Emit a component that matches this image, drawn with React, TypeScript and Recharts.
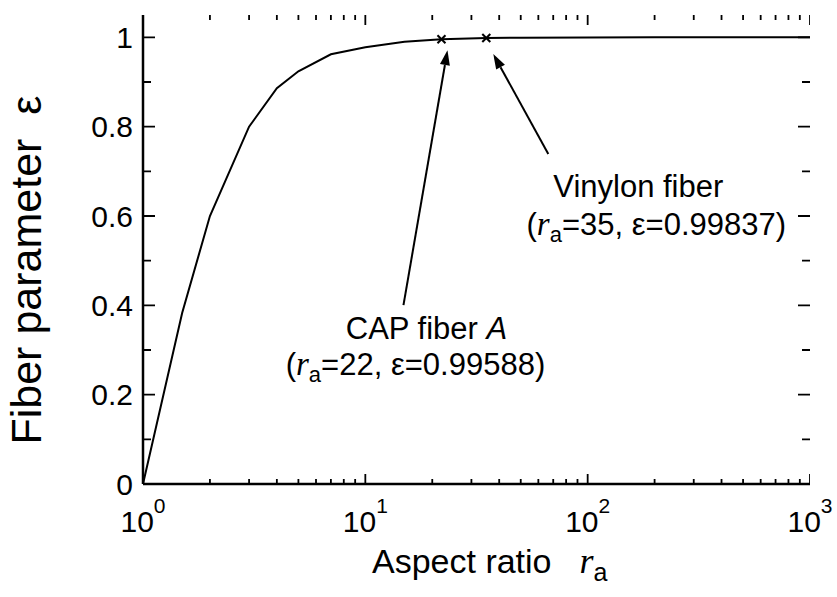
import { ComposedChart, Line, Scatter, XAxis, YAxis } from 'recharts';

// curve
const R_VALUES = [1, 1.5, 2, 3, 4, 5, 7, 10, 15, 22, 35, 50, 100, 200, 500, 1000];
const EPS_VALUES = [0, 0.383, 0.6, 0.8, 0.886, 0.924, 0.962, 0.978, 0.99, 0.99588, 0.99837, 0.9992, 0.9998, 1, 1, 1];

// marked fibres
const MARKER_KEYS = ['cap', 'vinylon'];
const MARKER_R = [22, 35];
const MARKER_EPS = [0.99588, 0.99837];

const X_DOMAIN = [1, 1000];
const Y_DOMAIN = [0, 1.05];
const X_MAJOR = [1, 10, 100, 1000];
const X_TICKS = [
  1, 2, 3, 4, 5, 6, 7, 8, 9,
  10, 20, 30, 40, 50, 60, 70, 80, 90,
  100, 200, 300, 400, 500, 600, 700, 800, 900,
  1000,
];
const Y_MAJOR = [0, 0.2, 0.4, 0.6, 0.8, 1];
const Y_TICKS = [0, 0.1, 0.2, 0.3, 0.4, 0.5, 0.6, 0.7, 0.8, 0.9, 1];

const curveData = R_VALUES.map((r, i) => ({ r, eps: EPS_VALUES[i] }));
const markerData = MARKER_KEYS.map((key, i) => ({ key, r: MARKER_R[i], eps: MARKER_EPS[i] }));

// chart box
const WIDTH = 837;
const HEIGHT = 597;
const MARGIN = { top: 15, right: 27, bottom: 53, left: 83 };
const X_AXIS_H = 60;
const Y_AXIS_W = 60;
const PLOT_W = WIDTH - MARGIN.left - MARGIN.right - Y_AXIS_W;
const PLOT_H = HEIGHT - MARGIN.top - MARGIN.bottom - X_AXIS_H;

// tick marks placed through the scales on the top and right edges, mirrored to bottom / left
const topTicks = X_TICKS.map((r) => ({ r, eps: Y_DOMAIN[1] }));
const rightTicks = Y_TICKS.map((eps) => ({ r: X_DOMAIN[1], eps }));

const FONT = '"Liberation Sans", Arial, Helvetica, sans-serif';
const SERIF = '"Liberation Serif", "Times New Roman", serif';

// pixel offsets of the annotations, relative to the marker
const LAYOUT: Record<string, any> = {
  cap: { tip: [6, 11], tail: [-38, 266], l1: [-15, 300], l2: [-26, 336] },
  vinylon: { tip: [7, 16], tail: [62, 116], l1: [152, 159], l2: [170, 197] },
};

const isMajorX = (v: number) => X_MAJOR.includes(v);
const isMajorY = (v: number) => Y_MAJOR.some((m) => Math.abs(m - v) < 1e-9);

function XTicks({ cx, cy, payload }: any) {
  const len = isMajorX(payload.r) ? 10 : 5;
  return (
    <path
      d={`M${cx},${cy}v${len}M${cx},${cy + PLOT_H}v${-len}`}
      stroke="#000"
      strokeWidth={1.8}
      fill="none"
    />
  );
}

function YTicks({ cx, cy, payload }: any) {
  const len = isMajorY(payload.eps) ? 12 : 8;
  return (
    <path
      d={`M${cx},${cy}h${-len}M${cx - PLOT_W},${cy}h${len}`}
      stroke="#000"
      strokeWidth={1.8}
      fill="none"
    />
  );
}

function XTickLabel(props: any) {
  const { x, y, payload } = props;
  if (!isMajorX(payload.value)) return <g />;
  return (
    <text x={x} y={y + 48} textAnchor="middle" fontFamily={FONT} fontSize={30} fill="#000">
      10
      <tspan fontSize={21} dy={-19}>
        {Math.round(Math.log10(payload.value))}
      </tspan>
    </text>
  );
}

function YTickLabel(props: any) {
  const { x, y, payload } = props;
  if (!isMajorY(payload.value)) return <g />;
  return (
    <text x={x - 10} y={y + 10.5} textAnchor="end" fontFamily={FONT} fontSize={30} fill="#000">
      {String(payload.value)}
    </text>
  );
}

function XTitle(props: any) {
  const vb = props.viewBox;
  return (
    <text x={vb.x + 229} y={vb.y + 89} fontFamily={FONT} fontSize={34} fill="#000">
      Aspect ratio
      <tspan dx={28} fontFamily={SERIF} fontStyle="italic" fontSize={36}>
        r
      </tspan>
      <tspan fontSize={25} dy={8}>
        a
      </tspan>
    </text>
  );
}

function YTitle(props: any) {
  const vb = props.viewBox;
  const cx = vb.x - 42;
  const cy = vb.y + 255;
  return (
    <text
      x={cx}
      y={cy}
      transform={`rotate(-90, ${cx}, ${cy})`}
      textAnchor="middle"
      fontFamily={FONT}
      fontSize={43}
      fill="#000"
    >
      Fiber parameter
      <tspan dx={24}>ε</tspan>
    </text>
  );
}

function Arrow({ x1, y1, x2, y2 }: { x1: number; y1: number; x2: number; y2: number }) {
  const dx = x2 - x1;
  const dy = y2 - y1;
  const d = Math.hypot(dx, dy);
  const ux = dx / d;
  const uy = dy / d;
  const hl = 15;
  const hw = 5;
  const bx = x2 - ux * hl;
  const by = y2 - uy * hl;
  const pts = `${x2},${y2} ${bx - uy * hw},${by + ux * hw} ${bx + uy * hw},${by - ux * hw}`;
  return (
    <g>
      <line x1={x1} y1={y1} x2={bx} y2={by} stroke="#000" strokeWidth={2} />
      <polygon points={pts} fill="#000" />
    </g>
  );
}

function FiberMarker(props: any) {
  const { cx, cy, payload } = props;
  const lay = LAYOUT[payload.key];
  const s = 4;
  const rText = `=${payload.r}, ε=${payload.eps.toFixed(5)})`;
  return (
    <g>
      <line x1={cx - s} y1={cy - s} x2={cx + s} y2={cy + s} stroke="#000" strokeWidth={2} />
      <line x1={cx - s} y1={cy + s} x2={cx + s} y2={cy - s} stroke="#000" strokeWidth={2} />
      <Arrow x1={cx + lay.tail[0]} y1={cy + lay.tail[1]} x2={cx + lay.tip[0]} y2={cy + lay.tip[1]} />
      <text x={cx + lay.l1[0]} y={cy + lay.l1[1]} textAnchor="middle" fontFamily={FONT} fontSize={31} fill="#000">
        {payload.key === 'cap' ? 'CAP fiber ' : 'Vinylon fiber'}
        {payload.key === 'cap' && <tspan fontStyle="italic">A</tspan>}
      </text>
      <text x={cx + lay.l2[0]} y={cy + lay.l2[1]} textAnchor="middle" fontFamily={FONT} fontSize={31} fill="#000">
        (
        <tspan fontFamily={SERIF} fontStyle="italic" fontSize={33}>
          r
        </tspan>
        <tspan fontSize={22} dy={7}>
          a
        </tspan>
        <tspan dy={-7}>{rText}</tspan>
      </text>
    </g>
  );
}

export default function App() {
  return (
    <div style={{ position: 'absolute', left: 0, top: 0, background: '#fff' }}>
      <ComposedChart width={WIDTH} height={HEIGHT} data={curveData} margin={MARGIN}>
        <XAxis
          dataKey="r"
          type="number"
          scale="log"
          domain={X_DOMAIN}
          allowDataOverflow
          ticks={X_TICKS}
          interval={0}
          height={X_AXIS_H}
          tickLine={false}
          tickSize={0}
          tickMargin={0}
          axisLine={{ stroke: '#000', strokeWidth: 2.5 }}
          tick={<XTickLabel />}
          label={<XTitle />}
        />
        <YAxis
          type="number"
          domain={Y_DOMAIN}
          allowDataOverflow
          ticks={Y_TICKS}
          interval={0}
          width={Y_AXIS_W}
          tickLine={false}
          tickSize={0}
          tickMargin={0}
          axisLine={{ stroke: '#000', strokeWidth: 2.5 }}
          tick={<YTickLabel />}
          label={<YTitle />}
        />
        <XAxis
          xAxisId="top"
          orientation="top"
          dataKey="r"
          type="number"
          scale="log"
          domain={X_DOMAIN}
          allowDataOverflow
          height={0}
          tick={false}
          tickLine={false}
          axisLine={{ stroke: '#000', strokeWidth: 2.5 }}
        />
        <YAxis
          yAxisId="right"
          orientation="right"
          type="number"
          domain={Y_DOMAIN}
          allowDataOverflow
          width={0}
          tick={false}
          tickLine={false}
          axisLine={{ stroke: '#000', strokeWidth: 2.5 }}
        />
        <Scatter data={topTicks} dataKey="eps" shape={<XTicks />} isAnimationActive={false} />
        <Scatter data={rightTicks} dataKey="eps" shape={<YTicks />} isAnimationActive={false} />
        <Line
          dataKey="eps"
          type="linear"
          stroke="#000"
          strokeWidth={2}
          dot={false}
          isAnimationActive={false}
        />
        <Scatter data={markerData} dataKey="eps" shape={<FiberMarker />} isAnimationActive={false} />
      </ComposedChart>
    </div>
  );
}
